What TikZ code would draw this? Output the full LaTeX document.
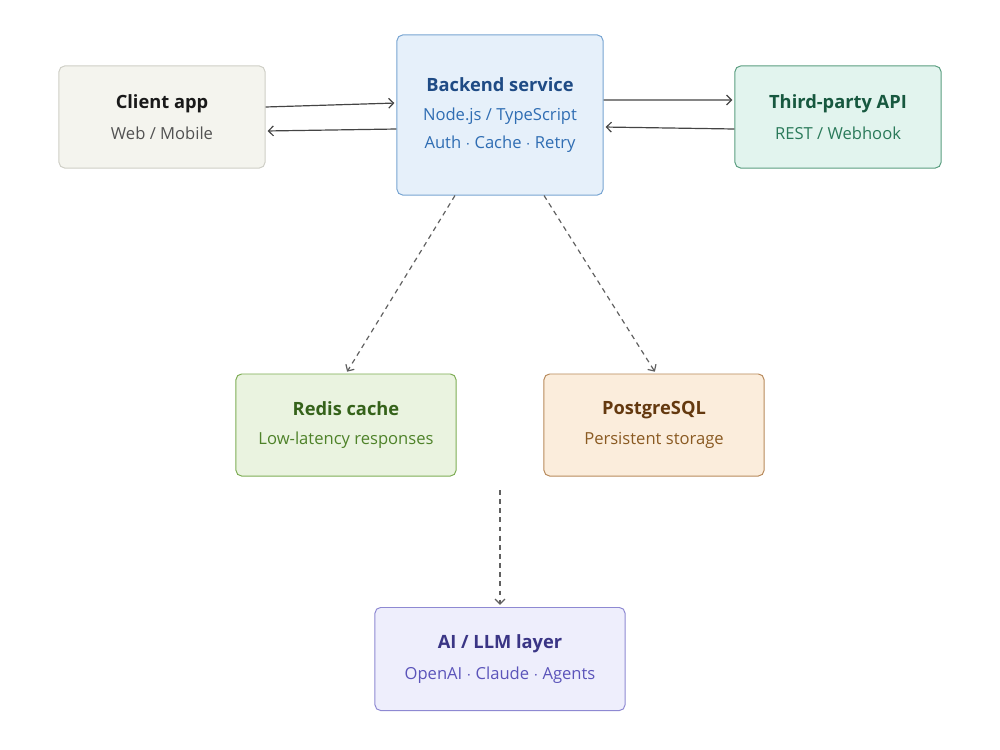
\documentclass[tikz,border=0pt]{standalone}
\usepackage{fontspec}
\setmainfont{Open Sans}
\usetikzlibrary{arrows.meta, positioning}
\definecolor{clientfill}{HTML}{F4F4EE}
\definecolor{clientline}{HTML}{CFCFC6}
\definecolor{backfill}{HTML}{E6F0FA}
\definecolor{backline}{HTML}{78A5D2}
\definecolor{backtitle}{HTML}{1F4B85}
\definecolor{backtext}{HTML}{2F6DB3}
\definecolor{thirdfill}{HTML}{E2F4EE}
\definecolor{thirdline}{HTML}{5A9E80}
\definecolor{thirdtitle}{HTML}{17583F}
\definecolor{thirdtext}{HTML}{2A7A5A}
\definecolor{redisfill}{HTML}{EAF3E0}
\definecolor{redisline}{HTML}{7EAD55}
\definecolor{redistitle}{HTML}{35621A}
\definecolor{redistext}{HTML}{4E8229}
\definecolor{pgfill}{HTML}{FBEDDC}
\definecolor{pgline}{HTML}{B88A5C}
\definecolor{pgtitle}{HTML}{64390F}
\definecolor{pgtext}{HTML}{8A5A22}
\definecolor{aifill}{HTML}{EEEEFC}
\definecolor{ailine}{HTML}{8E89D2}
\definecolor{aititle}{HTML}{3A3585}
\definecolor{aitext}{HTML}{5B54BA}
\definecolor{arrowgray}{HTML}{444444}
\tikzset{
  box/.style={draw, rounded corners=4pt, line width=0.7pt, align=center,
    minimum width=5.15cm, minimum height=2.55cm, inner sep=0pt},
  link/.style={draw=arrowgray, line width=0.85pt, -{Straight Barb[length=3.5pt,width=7pt]}, shorten >=1.5pt},
  dlink/.style={link, draw=arrowgray!85, dash pattern=on 3.5pt off 3pt}
}
\newcommand{\ttlfont}{\bfseries\fontsize{13}{16}\selectfont}
\newcommand{\subline}{\fontsize{11.8}{14}\selectfont}
\begin{document}
\begin{tikzpicture}[x=0.025cm,y=-0.025cm]
\useasboundingbox (0,0) rectangle (1000,750);
% boxes
\node[box, fill=clientfill, draw=clientline] (client) at (162,117)
  {{\ttlfont\color{black!90}Client app}\\[9pt]{\subline\color{black!68}Web / Mobile}};
\node[box, fill=backfill, draw=backline, minimum height=4cm] (backend) at (500,115)
  {{\ttlfont\color{backtitle}Backend service}\\[8.5pt]{\subline\color{backtext}Node.js / TypeScript}\\[8pt]{\subline\color{backtext}Auth $\cdot$ Cache $\cdot$ Retry}};
\node[box, fill=thirdfill, draw=thirdline] (third) at (838,117)
  {{\ttlfont\color{thirdtitle}Third-party API}\\[9pt]{\subline\color{thirdtext}REST / Webhook}};
\node[box, fill=redisfill, draw=redisline, minimum width=5.5cm] (redis) at (346,425)
  {{\ttlfont\color{redistitle}Redis cache}\\[9pt]{\subline\color{redistext}Low-latency responses}};
\node[box, fill=pgfill, draw=pgline, minimum width=5.5cm] (pg) at (654,425)
  {{\ttlfont\color{pgtitle}PostgreSQL}\\[9pt]{\subline\color{pgtext}Persistent storage}};
\node[box, fill=aifill, draw=ailine, minimum width=6.25cm, minimum height=2.575cm] (ai) at (500,659)
  {{\ttlfont\color{aititle}AI / LLM layer}\\[9pt]{\subline\color{aitext}OpenAI $\cdot$ Claude $\cdot$ Agents}};
\coordinate (aistart) at (500,490);
% connectors
\draw[link] ([yshift=0.25cm]client.east) -- ([yshift=0.3cm]backend.west);
\draw[link] ([yshift=-0.35cm]backend.west) -- ([yshift=-0.35cm]client.east);
\draw[link] ([yshift=0.375cm]backend.east) -- ([yshift=0.425cm]third.west);
\draw[link] ([yshift=-0.3cm]third.west) -- ([yshift=-0.3cm]backend.east);
\draw[dlink] ([xshift=-1.125cm]backend.south) -- (redis.north);
\draw[dlink] ([xshift=1.1cm]backend.south) -- ([xshift=0.05cm]pg.north);
\draw[dlink] (aistart) -- (ai.north);
\end{tikzpicture}
\end{document}
